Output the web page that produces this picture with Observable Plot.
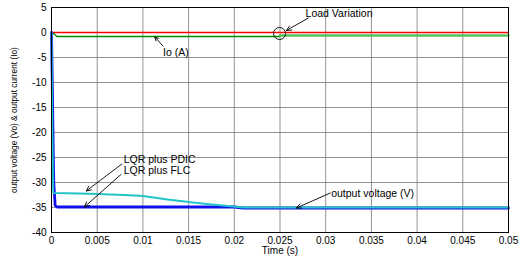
<!DOCTYPE html>
<html><head><meta charset="utf-8">
<script src="https://cdn.jsdelivr.net/npm/d3@7"></script>
<script src="https://cdn.jsdelivr.net/npm/@observablehq/plot@0.6"></script>
<style>body{margin:0;background:#fff}</style>
</head><body><div id="chart"></div>
<script>
const xTicks = [0,0.005,0.01,0.015,0.02,0.025,0.03,0.035,0.04,0.045,0.05];
const yTicks = [5,0,-5,-10,-15,-20,-25,-30,-35,-40];
const flcT = [0,0.0001,0.0002,0.00025,0.0004,0.0006,0.02,0.021,0.05];
const flcV = [0,-12,-25,-30,-34.6,-34.9,-34.9,-35.1,-35.1];
const pdicT = [0,0.0001,0.0002,0.003,0.005,0.008,0.01,0.0127,0.015,0.017,0.0199,0.021,0.05];
const pdicV = [0,-20,-32.1,-32.2,-32.3,-32.5,-32.7,-33.4,-33.9,-34.3,-34.8,-35,-35];
const vrefT = [0,0.05];
const vrefV = [0,0];
const ioT = [0,0.0003,0.0006,0.025];
const ioV = [0,-0.3,-0.8,-0.8];
const io2T = [0.025,0.05];
const io2V = [-0.6,-0.6];
const yLabel = "output voltage (Vo) & output current (Io)";
const notes = [
  {t:"Load Variation", x:0.0278, y:3.8, x1:0.0281, y1:2.9, x2:0.0257, y2:0.4},
  {t:"Io (A)", x:0.0122, y:-4.0, x1:0.0122, y1:-2.7, x2:0.0113, y2:-0.9},
  {t:"LQR plus PDIC", x:0.0079, y:-25.4, x1:0.0077, y1:-26.3, x2:0.0038, y2:-31.7},
  {t:"LQR plus FLC", x:0.0079, y:-27.7, x1:0.0076, y1:-28.4, x2:0.0036, y2:-34.9},
  {t:"output voltage (V)", x:0.0306, y:-32.2, x1:0.0305, y1:-32.1, x2:0.0268, y2:-35.1}
];
const circle = [{x:0.02495, y:-0.2}];
const z = (T,V) => T.map((t,i)=>({t, v:V[i]}));

const chart = Plot.plot({
  width: 520, height: 259,
  marginLeft: 51, marginRight: 12, marginTop: 7, marginBottom: 27,
  style: {fontFamily: "'Liberation Sans', Arial, sans-serif", fontSize: "10px", color: "#000", background: "#fff"},
  x: {domain: [0, 0.05]},
  y: {domain: [-40, 5]},
  marks: [
    Plot.gridX(xTicks, {stroke: "#777", strokeOpacity: 1, strokeWidth: 0.8}),
    Plot.gridY(yTicks, {stroke: "#777", strokeOpacity: 1, strokeWidth: 0.8}),
    Plot.axisX({ticks: xTicks, tickFormat: d => String(d), tickSize: 0, tickPadding: 4, label: "Time (s)", labelAnchor: "center", labelArrow: "none", labelOffset: 21, fontSize: 10}),
    Plot.axisY({ticks: yTicks, tickFormat: d => String(d), tickSize: 0, tickPadding: 5, label: null, fontSize: 10}),
    Plot.text([yLabel], {frameAnchor: "left", text: d => d, rotate: -90, dx: -37, textAnchor: "middle", lineAnchor: "middle", fontSize: 8.3, fill: "#000"}),
    Plot.line(z(vrefT, vrefV), {x:"t", y:"v", stroke:"#ff0000", strokeWidth:1.3}),
    Plot.line(z(ioT, ioV), {x:"t", y:"v", stroke:"#008a00", strokeWidth:1.3}),
    Plot.line(z(io2T, io2V), {x:"t", y:"v", stroke:"#55c055", strokeWidth:2.5}),
    Plot.line(z(flcT, flcV), {x:"t", y:"v", stroke:"#1010ee", strokeWidth:2.8}),
    Plot.line(z(pdicT, pdicV), {x:"t", y:"v", stroke:"#22c4c8", strokeWidth:1.8}),
    Plot.frame({stroke:"#000", strokeWidth: 1}),
    Plot.dot(circle, {x:"x", y:"y", r:6, stroke:"#000", fill:"none", strokeWidth:0.9}),
    Plot.arrow(notes, {x1:"x1", y1:"y1", x2:"x2", y2:"y2", stroke:"#000", strokeWidth:0.9, headLength:9, headAngle:50}),
    Plot.text(notes, {x:"x", y:"y", text:"t", textAnchor:"start", fontSize:10.5, fill:"#000"})
  ]
});
document.getElementById("chart").append(chart);
</script></body></html>
